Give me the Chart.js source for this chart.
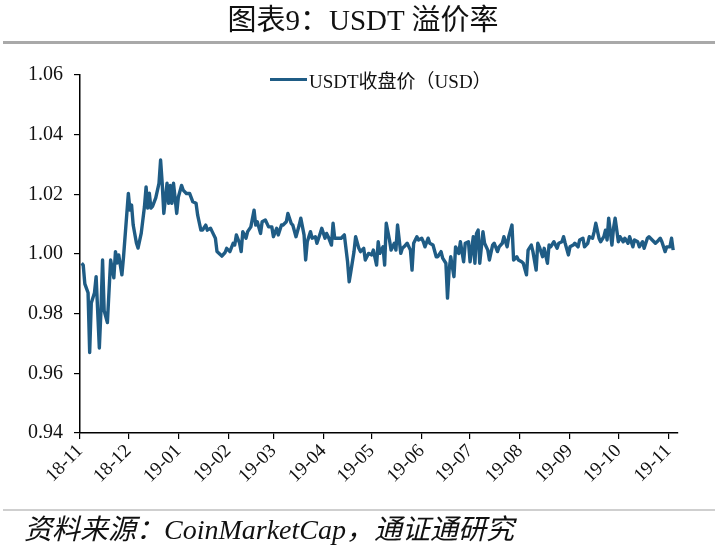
<!DOCTYPE html>
<html>
<head>
<meta charset="utf-8">
<script src="https://cdn.jsdelivr.net/npm/chart.js@4/dist/chart.umd.min.js"></script>
<style>
  html, body { margin: 0; padding: 0; background: #fff; }
  #wrap { position: relative; width: 718px; height: 548px; overflow: hidden; }
  #chart { position: absolute; left: 0; top: 0; }
  .title { position: absolute; left: 0; top: -4px; width: 726px; text-align: center;
           font: 29px "Liberation Serif", "Noto Sans CJK SC", serif; color: #111; }
  .rule { position: absolute; left: 3px; width: 712px; }
  .legend { position: absolute; left: 270px; top: 66px; font: 19px "Liberation Serif", "Noto Sans CJK SC", serif; color: #111;
            display: flex; align-items: center; }
  .legend i { display: inline-block; width: 37px; height: 3px; background: #1f5c85; margin-right: 2px; }
  .source { position: absolute; left: 24px; top: 507px; font: italic 28px "Liberation Serif", "Noto Sans CJK SC", serif; color: #111; }
</style>
</head>
<body>
<div id="wrap">
  <canvas id="chart" width="718" height="548"></canvas>
  <div class="title">图表9：USDT 溢价率</div>
  <div class="rule" style="top:41px;height:3px;background:#a9a9a9"></div>
  <div class="legend"><i></i>USDT收盘价（USD）</div>
  <div class="rule" style="top:509px;height:2px;background:#cfcfcf"></div>
  <div class="source">资料来源：CoinMarketCap，通证通研究</div>
</div>
<script>
// days since 2018-11-01
const days = [
  1, 2, 3, 5, 6, 7, 9, 10, 12, 13, 14, 15, 17, 19, 21, 22, 23, 24, 26, 27,
  30, 31, 32, 33, 35, 36, 38, 40, 41, 42, 43, 44, 45, 47, 49, 50, 51, 52, 54, 55,
  56, 57, 58, 60, 61, 63, 64, 66, 68, 70, 72, 73, 75, 76, 78, 79, 81, 82, 84, 85,
  88, 90, 91, 93, 95, 96, 97, 99, 100, 101, 103, 104, 106, 108, 109, 110, 112, 113, 115, 117,
  119, 120, 122, 123, 125, 126, 128, 129, 131, 132, 134, 136, 137, 139, 140, 141, 143, 144, 146, 147,
  149, 150, 152, 153, 154, 156, 157, 158, 160, 162, 164, 166, 167, 168, 170, 171, 173, 174, 176, 177,
  179, 181, 182, 184, 185, 186, 188, 189, 190, 192, 193, 195, 196, 197, 199, 200, 201, 203, 205, 206,
  207, 209, 210, 212, 213, 214, 216, 217, 219, 221, 222, 224, 225, 227, 228, 229, 230, 232, 233, 235,
  236, 238, 239, 241, 242, 244, 245, 246, 247, 248, 250, 251, 253, 254, 256, 257, 259, 260, 262, 263,
  265, 266, 268, 269, 271, 272, 274, 275, 277, 278, 280, 281, 283, 284, 285, 287, 288, 290, 291, 292,
  294, 296, 297, 299, 300, 301, 303, 304, 306, 307, 309, 310, 312, 313, 315, 316, 318, 319, 320, 322,
  323, 325, 326, 327, 328, 330, 331, 332, 334, 335, 337, 338, 340, 341, 343, 344, 346, 347, 349, 350,
  352, 353, 355, 357, 358, 360, 361, 363, 364, 366, 367, 368
];
const prices = [
  0.9969, 0.9963, 0.9900, 0.9870, 0.9670, 0.9836, 0.9870, 0.9924, 0.9685, 0.9810, 0.9980, 0.9810, 0.9770, 0.9980, 0.9920, 1.0008, 0.9970, 0.9997, 0.9930, 0.9990,
  1.0203, 1.0147, 1.0164, 1.0097, 1.0037, 1.0020, 1.0070, 1.0159, 1.0225, 1.0154, 1.0204, 1.0154, 1.0160, 1.0188, 1.0237, 1.0315, 1.0237, 1.0136, 1.0237, 1.0170,
  1.0230, 1.0170, 1.0237, 1.0136, 1.0190, 1.0230, 1.0214, 1.0203, 1.0203, 1.0175, 1.0170, 1.0130, 1.0080, 1.0080, 1.0097, 1.0080, 1.0086, 1.0075, 1.0053, 1.0008,
  0.9993, 1.0005, 1.0019, 1.0008, 1.0036, 1.0030, 1.0064, 1.0036, 1.0008, 1.0075, 1.0053, 1.0075, 1.0091, 1.0147, 1.0097, 1.0108, 1.0069, 1.0108, 1.0114, 1.0091,
  1.0091, 1.0058, 1.0086, 1.0064, 1.0097, 1.0097, 1.0108, 1.0136, 1.0103, 1.0097, 1.0058, 1.0097, 1.0120, 1.0064, 0.9980, 1.0041, 1.0075, 1.0053, 1.0058, 1.0036,
  1.0069, 1.0086, 1.0053, 1.0069, 1.0058, 1.0030, 1.0103, 1.0053, 1.0053, 1.0053, 1.0064, 0.9974, 0.9907, 0.9940, 1.0008, 1.0058, 1.0019, 1.0008, 1.0019, 0.9980,
  1.0002, 0.9997, 1.0013, 0.9963, 1.0041, 1.0002, 1.0024, 0.9963, 1.0103, 1.0047, 1.0013, 1.0036, 1.0013, 1.0097, 1.0002, 1.0019, 1.0024, 1.0036, 1.0013, 0.9946,
  1.0036, 1.0058, 1.0047, 1.0053, 1.0041, 1.0024, 1.0053, 1.0036, 1.0030, 0.9991, 0.9991, 1.0008, 0.9986, 0.9969, 0.9852, 0.9946, 0.9991, 0.9924, 1.0024, 1.0002,
  1.0041, 0.9974, 1.0036, 1.0041, 0.9974, 1.0058, 0.9969, 1.0069, 1.0080, 0.9969, 1.0075, 1.0036, 1.0013, 0.9980, 1.0030, 1.0036, 1.0008, 1.0024, 1.0036, 1.0058,
  1.0024, 1.0058, 1.0097, 0.9980, 0.9991, 0.9980, 0.9974, 0.9969, 0.9930, 1.0013, 1.0030, 1.0008, 0.9946, 1.0036, 1.0024, 0.9991, 1.0019, 0.9969, 1.0030, 1.0024,
  1.0041, 1.0019, 1.0036, 1.0041, 1.0058, 1.0036, 0.9997, 1.0024, 1.0030, 1.0036, 1.0024, 1.0047, 1.0053, 1.0024, 1.0036, 1.0058, 1.0053, 1.0075, 1.0103, 1.0053,
  1.0041, 1.0058, 1.0080, 1.0047, 1.0120, 1.0030, 1.0086, 1.0120, 1.0041, 1.0058, 1.0041, 1.0053, 1.0036, 1.0058, 1.0024, 1.0047, 1.0041, 1.0024, 1.0041, 1.0019,
  1.0053, 1.0058, 1.0047, 1.0036, 1.0041, 1.0053, 1.0041, 1.0008, 1.0024, 1.0024, 1.0053, 1.0013
];
// month starts on the x axis
const tickDays   = [0, 30, 61, 92, 120, 151, 181, 212, 242, 273, 304, 334, 365];
const tickLabels = ['18-11', '18-12', '19-01', '19-02', '19-03', '19-04', '19-05', '19-06', '19-07', '19-08', '19-09', '19-10', '19-11'];
const yTicks     = [0.94, 0.96, 0.98, 1.00, 1.02, 1.04, 1.06];

const serif = '"Liberation Serif", "Times New Roman", serif';
const axisGrid = { display: true, drawOnChartArea: false, drawTicks: true, tickLength: 6, color: '#000', lineWidth: 1.2 };

new Chart(document.getElementById('chart'), {
  type: 'line',
  data: {
    datasets: [{
      label: 'USDT收盘价（USD）',
      data: days.map((d, i) => ({ x: d, y: prices[i] })),
      borderColor: '#1f5c85',
      borderWidth: 3.4,
      borderJoinStyle: 'round',
      pointRadius: 0,
      tension: 0,
    }],
  },
  options: {
    responsive: false, animation: false,
    layout: { padding: { left: 0, right: 40, top: 75, bottom: 0 } },
    plugins: { legend: { display: false }, tooltip: { enabled: false } },
    scales: {
      x: {
        type: 'linear', min: 0, max: 371,
        afterBuildTicks: s => { s.ticks = tickDays.map(v => ({ value: v })); },
        afterFit: s => { s.height = 115; },
        border: { color: '#000', width: 1.5 },
        grid: axisGrid,
        ticks: {
          autoSkip: false, minRotation: 45, maxRotation: 45, padding: 1,
          color: '#111', font: { family: serif, size: 19 },
          callback: v => tickLabels[tickDays.indexOf(v)] ?? '',
        },
      },
      y: {
        min: 0.94, max: 1.06,
        afterBuildTicks: s => { s.ticks = yTicks.map(v => ({ value: v })); },
        afterFit: s => { s.width = 80; },
        border: { color: '#000', width: 1.5 },
        grid: axisGrid,
        ticks: {
          padding: 11, color: '#111', font: { family: serif, size: 20 },
          callback: v => v.toFixed(2),
        },
      },
    },
  },
});
</script>
</body>
</html>
